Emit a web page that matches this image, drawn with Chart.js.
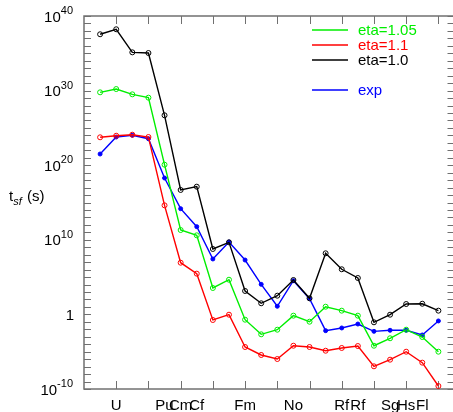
<!DOCTYPE html>
<html>
<head>
<meta charset="utf-8">
<script src="https://cdn.jsdelivr.net/npm/chart.js@4.4.0/dist/chart.umd.min.js"></script>
<style>
html, body { margin: 0; padding: 0; background: #fff; overflow: hidden; }
canvas { display: block; }
</style>
</head>
<body>
<canvas id="chart" width="458" height="412"></canvas>
<script>
// position of each nucleus along the x axis
var nuclideIndex = [0, 1, 2, 3, 4, 5, 6, 7, 8, 9, 10, 11, 12, 13, 14, 15, 16, 17, 18, 19, 20, 21];

// log10 of t_sf (s)
var eta105 = [29.77, 30.21, 29.50, 29.05, 20.07, 11.31, 10.60, 3.54, 4.65, -0.71, -2.67,
              -2.05, -0.17, -0.98, 1.03, 0.50, -0.17, -4.20, -3.20, -2.05, -3.03, -5.00];
var eta110 = [23.74, 23.95, 24.09, 23.78, 14.62, 6.93, 5.46, -0.75, -0.04, -4.37, -5.44,
              -5.98, -4.20, -4.37, -4.87, -4.50, -4.24, -6.96, -6.07, -5.00, -6.47, -9.60];
var eta100 = [37.55, 38.22, 35.13, 35.04, 26.69, 16.68, 17.12, 8.77, 9.66, 3.14, 1.49,
              2.51, 4.61, 2.16, 8.19, 6.05, 4.88, -1.06, -0.04, 1.39, 1.43, 0.50];
var expVals = [21.50, 23.78, 24.01, 23.55, 18.28, 14.17, 11.76, 7.43, 9.71, 7.29, 4.03,
               1.09, 4.52, 2.11, -2.18, -1.82, -1.29, -2.27, -2.13, -2.13, -2.76, -0.88];

// element names written under the axis and where they sit
var elementLabels = ['U', 'Pu', 'Cm', 'Cf', 'Fm', 'No', 'Rf', 'Rf', 'Sg', 'Hs', 'Fl'];
var elementPos = [1, 4, 5, 6, 9, 12, 15, 16, 18, 19, 20];

// axis ticks
var xTickPos = [1, 3, 5, 7, 9, 11, 13, 15, 17, 19, 21];
var yLabelExp = [40, 30, 20, 10, 0, -10];

function points(logs) {
  return nuclideIndex.map(function (x, i) {
    return { x: x, y: Math.pow(10, logs[i]) };
  });
}

var FONT = '"Liberation Sans", Arial, sans-serif';
var AXIS = '#707070';

var framePlugin = {
  id: 'frame',
  beforeDatasetsDraw: function (chart) {
    var ctx = chart.ctx, a = chart.chartArea;
    var xs = chart.scales.x, ys = chart.scales.y;
    ctx.save();
    ctx.strokeStyle = AXIS;
    ctx.lineWidth = 1.5;
    ctx.strokeRect(a.left, a.top, a.right - a.left, a.bottom - a.top);
    ctx.lineWidth = 1;
    ctx.beginPath();
    for (var e = -10; e <= 40; e++) {
      var y = Math.round(ys.getPixelForValue(Math.pow(10, e))) + 0.5;
      ctx.moveTo(a.left, y); ctx.lineTo(a.left + 7, y);
      ctx.moveTo(a.right, y); ctx.lineTo(a.right - 7, y);
    }
    xTickPos.forEach(function (v) {
      var x = Math.round(xs.getPixelForValue(v)) + 0.5;
      ctx.moveTo(x, a.bottom); ctx.lineTo(x, a.bottom - 8);
      ctx.moveTo(x, a.top); ctx.lineTo(x, a.top + 8);
    });
    ctx.stroke();
    ctx.restore();
  },
  afterDraw: function (chart) {
    var ctx = chart.ctx, a = chart.chartArea;
    var xs = chart.scales.x, ys = chart.scales.y;
    ctx.save();
    ctx.fillStyle = '#000';
    ctx.textBaseline = 'alphabetic';

    // y tick labels with raised exponents
    yLabelExp.forEach(function (e) {
      var y = ys.getPixelForValue(Math.pow(10, e));
      var right = a.left - 11;
      ctx.textAlign = 'right';
      if (e === 0) {
        ctx.font = '15px ' + FONT;
        ctx.fillText('1', right + 1, y + 5.5);
        return;
      }
      var ex = e < 0 ? '-' + (-e) : String(e);
      ctx.font = '11px ' + FONT;
      var w = ctx.measureText(ex).width;
      ctx.fillText(ex, right, y - 2);
      ctx.font = '15px ' + FONT;
      ctx.fillText('10', right - w, y + 5.5);
    });

    // y title: t_sf (s)
    ctx.textAlign = 'left';
    ctx.font = '15px ' + FONT;
    ctx.fillText('t', 9, 201);
    var tw = ctx.measureText('t').width;
    ctx.font = 'italic 11px ' + FONT;
    ctx.fillText('sf', 9 + tw, 205);
    ctx.font = '15px ' + FONT;
    ctx.fillText('(s)', 27, 201);

    // element names under the axis
    ctx.textAlign = 'center';
    ctx.font = '15px ' + FONT;
    elementLabels.forEach(function (name, i) {
      ctx.fillText(name, xs.getPixelForValue(elementPos[i]), a.bottom + 21);
    });

    // legend
    var rows = [0, 1, 2, 4];
    ctx.textAlign = 'left';
    ctx.textBaseline = 'middle';
    chart.data.datasets.forEach(function (ds, i) {
      var y = 30 + rows[i] * 15;
      ctx.strokeStyle = ds.borderColor;
      ctx.lineWidth = 1.5;
      ctx.beginPath();
      ctx.moveTo(312, y); ctx.lineTo(348, y);
      ctx.stroke();
      ctx.fillStyle = ds.borderColor;
      ctx.fillText(ds.label, 358, y + 1);
    });
    ctx.restore();
  }
};

new Chart(document.getElementById('chart'), {
  type: 'line',
  data: {
    datasets: [
      { label: 'eta=1.05', data: points(eta105), borderColor: '#00ee00',
        pointBackgroundColor: 'rgba(0,0,0,0)', pointStyle: 'circle' },
      { label: 'eta=1.1', data: points(eta110), borderColor: '#ff0000',
        pointBackgroundColor: 'rgba(0,0,0,0)' },
      { label: 'eta=1.0', data: points(eta100), borderColor: '#000000',
        pointBackgroundColor: 'rgba(0,0,0,0)' },
      { label: 'exp', data: points(expVals), borderColor: '#0000ff',
        pointBackgroundColor: '#0000ff', pointRadius: 2 }
    ]
  },
  options: {
    responsive: false,
    animation: false,
    layout: { padding: { left: 84, top: 16, right: 2, bottom: 23 } },
    elements: {
      line: { borderWidth: 1.4, tension: 0 },
      point: { radius: 2.5, borderWidth: 1, hoverRadius: 2.5 }
    },
    plugins: {
      legend: { display: false },
      tooltip: { enabled: false }
    },
    scales: {
      x: { type: 'linear', min: -1, max: 22, display: false },
      y: { type: 'logarithmic', min: 1e-10, max: 1e40, display: false }
    }
  },
  plugins: [framePlugin]
});
</script>
</body>
</html>
